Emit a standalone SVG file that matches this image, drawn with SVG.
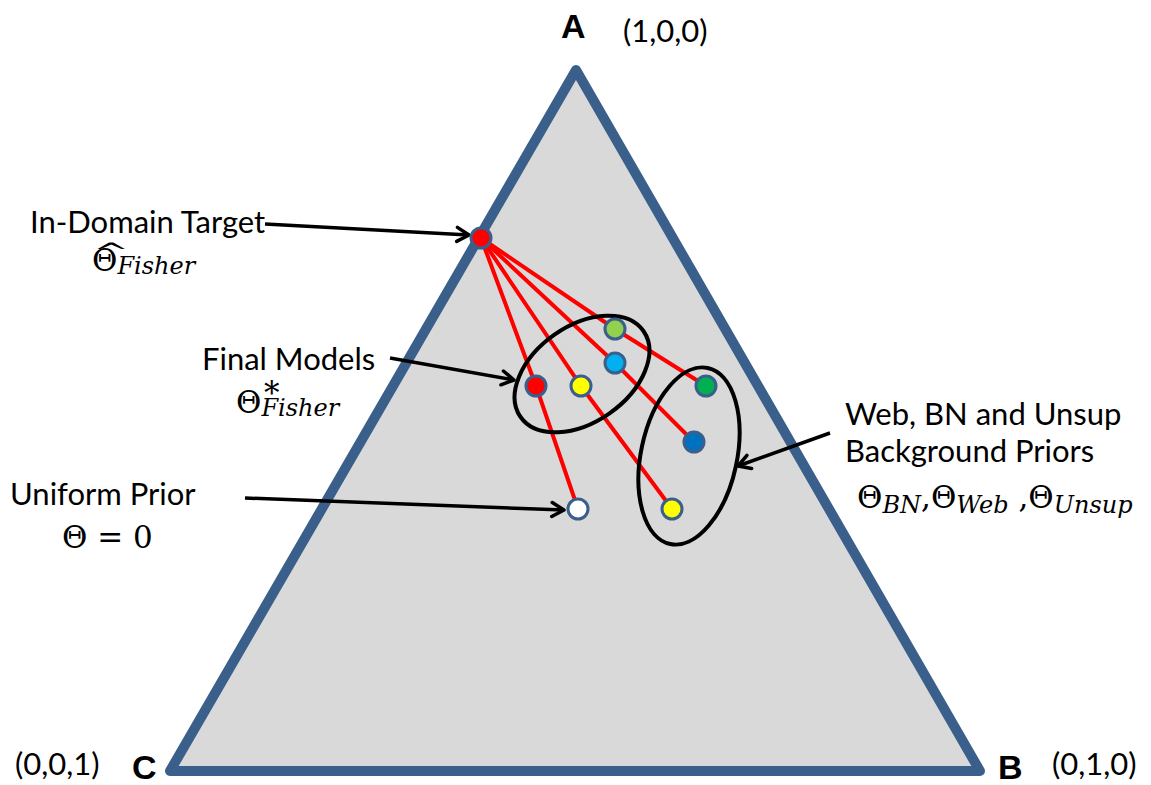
<svg xmlns="http://www.w3.org/2000/svg" width="1151" height="785" viewBox="0 0 1151 785">
  <style>
    .lbl { font-family: Lato, "Liberation Sans", sans-serif; font-size: 31px; fill: #000; }
    .vtx { font-family: "Liberation Sans", Arial, sans-serif; font-size: 34px; font-weight: bold; fill: #000; }
    .math { font-family: "DejaVu Serif", "Liberation Serif", serif; font-size: 31px; fill: #000; }
    .sub { font-style: italic; font-size: 24px; }
    .edge { stroke: #FF0000; stroke-width: 4; fill: none; }
    .dot { stroke: #3A5F8B; stroke-width: 3; }
    .ring { fill: none; stroke: #000; stroke-width: 4; }
    .ptr { stroke: #000; stroke-width: 3.5; fill: none; marker-end: url(#open); }
  </style>
  <defs>
    <marker id="open" markerUnits="userSpaceOnUse" markerWidth="20" markerHeight="20" viewBox="0 0 20 20" refX="17" refY="10" orient="auto">
      <path d="M5,3 L17,10 L5,17" fill="none" stroke="#000" stroke-width="3.5" stroke-linecap="round" stroke-linejoin="round"/>
    </marker>
  </defs>

  <rect width="1151" height="785" fill="#fff"/>

  <!-- simplex -->
  <g id="simplex">
    <polygon points="576,70 170,771 980,771" fill="#D9D9D9" stroke="#3A5F8B" stroke-width="10" stroke-linejoin="round"/>
  </g>

  <!-- vertex labels -->
  <g id="vertex-A">
    <text class="vtx" x="561" y="38">A</text>
    <text class="lbl" x="623" y="42">(1,0,0)</text>
  </g>
  <g id="vertex-B">
    <text class="vtx" x="998" y="779">B</text>
    <text class="lbl" x="1052" y="775">(0,1,0)</text>
  </g>
  <g id="vertex-C">
    <text class="vtx" x="132" y="779">C</text>
    <text class="lbl" x="15" y="775">(0,0,1)</text>
  </g>

  <!-- connectors -->
  <g id="connectors">
    <polyline class="edge" points="481,238 536,386 578,509"/>
    <polyline class="edge" points="481,238 581,386 672,509"/>
    <polyline class="edge" points="481,238 615,363 694,442"/>
    <polyline class="edge" points="481,238 615,329 706,386"/>
    <line class="ptr" x1="265" y1="224" x2="469" y2="235"/>
    <line class="ptr" x1="390" y1="358" x2="514" y2="380"/>
    <line class="ptr" x1="245" y1="498" x2="564" y2="510"/>
    <line class="ptr" x1="830" y1="433" x2="738" y2="466"/>
  </g>

  <!-- groupings -->
  <g id="final-models-ring">
    <ellipse class="ring" cx="582" cy="374" rx="75" ry="48" transform="rotate(-35 582 374)"/>
  </g>
  <g id="priors-ring">
    <ellipse class="ring" cx="689" cy="456" rx="48" ry="90" transform="rotate(12 689 456)"/>
  </g>

  <!-- points -->
  <g id="target"><circle class="dot" cx="481" cy="238" r="10" fill="#FF0000"/></g>
  <g id="final-red"><circle class="dot" cx="536" cy="386" r="10" fill="#FF0000"/></g>
  <g id="final-yellow"><circle class="dot" cx="581" cy="386" r="10" fill="#FFFF00"/></g>
  <g id="final-cyan"><circle class="dot" cx="615" cy="363" r="10" fill="#00B0F0"/></g>
  <g id="final-green"><circle class="dot" cx="615" cy="329" r="10" fill="#92D050"/></g>
  <g id="prior-uniform"><circle class="dot" cx="578" cy="509" r="10" fill="#FFFFFF"/></g>
  <g id="prior-yellow"><circle class="dot" cx="672" cy="509" r="10" fill="#FFFF00"/></g>
  <g id="prior-blue"><circle class="dot" cx="694" cy="442" r="10" fill="#0070C0"/></g>
  <g id="prior-green"><circle class="dot" cx="706" cy="386" r="10" fill="#00B050"/></g>

  <!-- annotations -->
  <g id="label-target">
    <text class="lbl" x="30" y="233">In-Domain Target</text>
    <!-- hat accent over the estimator symbol -->
    <text class="math" x="0" y="0" font-size="24" transform="translate(93 260) scale(1.4 0.8)">^</text>
    <text class="math" x="92" y="271">Θ<tspan class="sub" dy="3">Fisher</tspan></text>
  </g>
  <g id="label-final">
    <text class="lbl" x="202" y="370">Final Models</text>
    <text class="math" x="236" y="413">Θ<tspan class="sub" dy="3">Fisher</tspan></text>
    <text class="math" x="264" y="404" font-size="19">*</text>
  </g>
  <g id="label-uniform">
    <text class="lbl" x="10" y="505">Uniform Prior</text>
    <text class="math" x="62" y="548">Θ = 0</text>
  </g>
  <g id="label-priors">
    <text class="lbl" x="845" y="425">Web, BN and Unsup</text>
    <text class="lbl" x="845" y="462">Background Priors</text>
    <text class="math" x="857" y="508">Θ<tspan class="sub" dy="5">BN</tspan><tspan dy="-5">,Θ</tspan><tspan class="sub" dy="5">Web</tspan><tspan dy="-5"> ,Θ</tspan><tspan class="sub" dy="5">Unsup</tspan></text>
  </g>
</svg>
